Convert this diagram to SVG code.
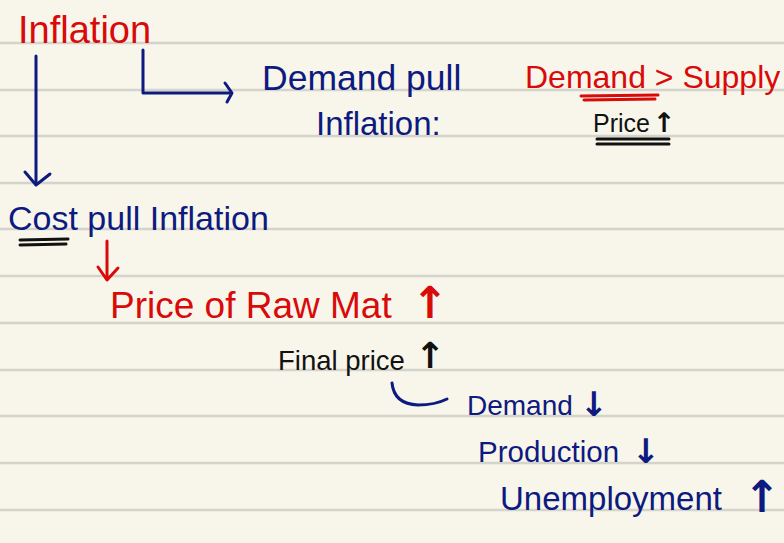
<svg xmlns="http://www.w3.org/2000/svg" width="784" height="543" viewBox="0 0 784 543">
<style>
.t{font-family:"Liberation Sans","DejaVu Sans",sans-serif;}
.red{fill:#d80a0a;}
.blue{fill:#0d1a80;}
.blk{fill:#111111;}
.ar{font-family:"DejaVu Sans",sans-serif;font-weight:bold;text-anchor:middle;}
.rule{stroke:#d4d4cc;stroke-width:2.5;}
.cb{stroke:#0d1a80;stroke-width:3;fill:none;stroke-linecap:round;stroke-linejoin:round;}
.cr{stroke:#d80a0a;stroke-width:3;fill:none;stroke-linecap:round;stroke-linejoin:round;}
.ck{stroke:#111111;stroke-width:3;fill:none;stroke-linecap:round;}
</style>
<rect width="784" height="543" fill="#f8f6ea"/>
<g id="rules">
<line class="rule" x1="0" y1="43" x2="784" y2="43"/>
<line class="rule" x1="0" y1="90" x2="784" y2="90"/>
<line class="rule" x1="0" y1="136" x2="784" y2="136"/>
<line class="rule" x1="0" y1="183" x2="784" y2="183"/>
<line class="rule" x1="0" y1="229" x2="784" y2="229"/>
<line class="rule" x1="0" y1="276" x2="784" y2="276"/>
<line class="rule" x1="0" y1="323" x2="784" y2="323"/>
<line class="rule" x1="0" y1="370" x2="784" y2="370"/>
<line class="rule" x1="0" y1="416" x2="784" y2="416"/>
<line class="rule" x1="0" y1="463" x2="784" y2="463"/>
<line class="rule" x1="0" y1="510" x2="784" y2="510"/>
</g>
<g id="connectors">
<path class="cb" d="M36 56 L36 184"/>
<path class="cb" d="M25 172 L36 185 L50 174"/>
<path class="cb" d="M143 50 L143 93 L230 93"/>
<path class="cb" d="M225 83 L232 93 L227 102"/>
<path class="cr" d="M107 241 L107 279"/>
<path class="cr" d="M98 267 L107 280 L118 268"/>
<path class="cb" d="M392 383 Q394 404 418 405 Q435 405 447 399"/>
</g>
<g id="inflation"><text class="t red" x="18" y="43" font-size="38">Inflation</text></g>
<g id="demand-pull">
<text class="t blue" x="262" y="90" font-size="35.5">Demand pull</text>
<text class="t blue" x="316" y="135" font-size="33">Inflation:</text>
</g>
<g id="demand-supply">
<text class="t red" x="525" y="88" font-size="32">Demand &gt; Supply</text>
<path class="cr" d="M581 96 L658 95 M584 100 L655 99"/>
</g>
<g id="price-up">
<text class="t blk" x="593" y="132" font-size="25">Price</text>
<text class="ar blk" x="664" y="132" font-size="27">↑</text>
<path class="ck" d="M597 139 L669 139 M597 144 L669 144"/>
</g>
<g id="cost-pull">
<text class="t blue" x="8" y="230" font-size="34">Cost pull Inflation</text>
<path class="ck" d="M20 240 L68 239 M20 245 L66 244"/>
</g>
<g id="raw-mat">
<text class="t red" x="110" y="318" font-size="37">Price of Raw Mat</text>
<text class="ar red" x="430" y="318" font-size="44">↑</text>
</g>
<g id="final-price">
<text class="t blk" x="278" y="370" font-size="27.5">Final price</text>
<text class="ar blk" x="430" y="368" font-size="36">↑</text>
</g>
<g id="demand-down">
<text class="t blue" x="467" y="415" font-size="28">Demand</text>
<text class="ar blue" x="594" y="416" font-size="34">↓</text>
</g>
<g id="production">
<text class="t blue" x="478" y="462" font-size="29.5">Production</text>
<text class="ar blue" x="646" y="463" font-size="34">↓</text>
</g>
<g id="unemployment">
<text class="t blue" x="500" y="510" font-size="33">Unemployment</text>
<text class="ar blue" x="762" y="512" font-size="44">↑</text>
</g>
</svg>
